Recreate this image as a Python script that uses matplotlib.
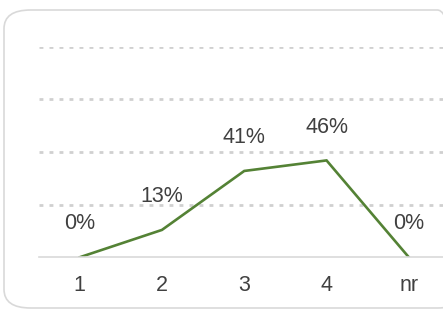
import matplotlib
matplotlib.use("Agg")
from matplotlib import pyplot as plt
from matplotlib.patches import FancyBboxPatch

categories = ["1", "2", "3", "4", "nr"]
values = [0, 13, 41, 46, 0]  # percent
labels = ["0%", "13%", "41%", "46%", "0%"]

plt.rcParams["font.family"] = ["Liberation Sans", "DejaVu Sans"]

fig = plt.figure(figsize=(4.43, 3.11), dpi=100)

# rounded chart frame
frame = FancyBboxPatch((4 / 443, 3 / 311), 460 / 443, 298 / 311,
                       boxstyle="round,pad=0,rounding_size=0.06",
                       transform=fig.transFigure, facecolor="none",
                       edgecolor="#d9d9d9", linewidth=1.2, zorder=-1)
fig.patches.append(frame)

# axes spill past the right edge like the source crop
ax = fig.add_axes([38.5 / 443, 0.1727, 411.5 / 443, 0.6771])
ax.set_facecolor("none")
x = list(range(len(categories)))
ax.plot(x, values, color="#548235", linewidth=1.9, solid_joinstyle="miter")

for xi, v, lab in zip(x, values, labels):
    ax.annotate(lab, (xi, v), xytext=(0, 24), textcoords="offset points",
                ha="center", va="center", fontsize=15.5, color="#404040")

ax.set_xlim(-0.5, 4.5)
ax.set_ylim(0, 100)
ax.set_yticks([25, 50, 75, 100])
ax.yaxis.grid(True, color="#d0d0d0", linestyle=(0, (1.4, 2.2)), linewidth=2.0)
ax.set_axisbelow(True)
ax.tick_params(axis="y", left=False, labelleft=False)
ax.set_xticks(x)
ax.set_xticklabels(categories)
ax.tick_params(axis="x", length=0, pad=13, labelsize=15.5, labelcolor="#404040")
for side in ["top", "right", "left"]:
    ax.spines[side].set_visible(False)
ax.spines["bottom"].set_color("#d9d9d9")
ax.spines["bottom"].set_linewidth(1.2)

fig.savefig("out.png", dpi=100)
